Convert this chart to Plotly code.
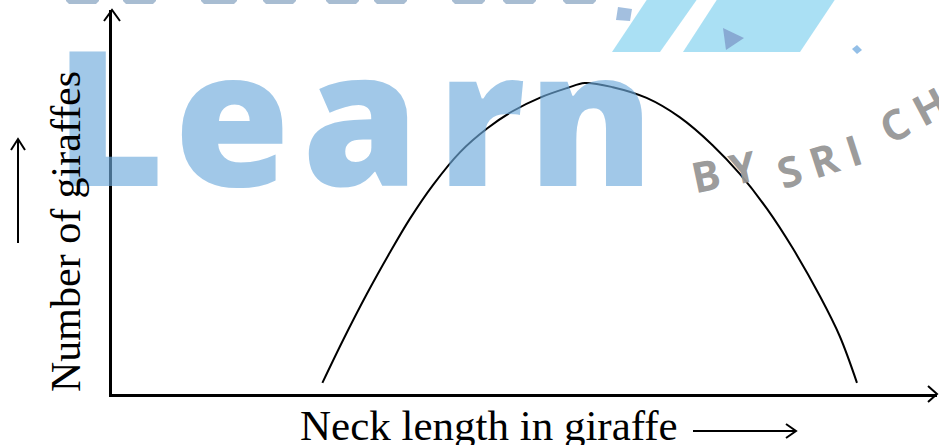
import plotly.graph_objects as go

# ---- data (arbitrary units) ----
neck_length = [25.5, 28.0, 30.9, 33.7, 36.1, 38.9, 42.2, 45.5, 48.6, 51.9, 55.2, 57.3,
               60.7, 64.8, 68.8, 72.8, 76.1, 79.4, 82.5, 85.8, 88.2, 90.3]
giraffe_count = [2.9, 14.0, 26.1, 36.9, 45.6, 54.4, 63.0, 69.2, 73.7, 77.2, 79.7, 81.0,
                 79.9, 77.1, 72.1, 64.8, 57.3, 48.2, 38.0, 25.5, 15.1, 2.9]
x_label = "Neck length in giraffe"
y_label = "Number of giraffes"

W, H = 939, 445
ML, MR, MT, MB = 112, 2, 10, 51
PW, PH = W - ML - MR, H - MT - MB


def px(xp):
    return (xp - ML) / PW


def py(yp):
    return (H - MB - yp) / PH


def path(points):
    s = ""
    for i, (a, b) in enumerate(points):
        s += ("M " if i == 0 else " L ") + f"{px(a):.5f},{py(b):.5f}"
    return s


fig = go.Figure()
fig.add_trace(go.Scatter(
    x=neck_length, y=giraffe_count, mode="lines",
    line=dict(color="black", width=2, shape="spline", smoothing=1.0),
    hoverinfo="skip",
))

shapes = []
line_style = dict(color="black", width=2)
# axis arrowheads
shapes.append(dict(type="path", xref="paper", yref="paper",
                   path=path([(928, 386), (937, 394), (928, 402)]), line=line_style))
shapes.append(dict(type="path", xref="paper", yref="paper",
                   path=path([(104, 21), (112, 10), (120, 21)]), line=line_style))
# label arrows
shapes.append(dict(type="path", xref="paper", yref="paper",
                   path=path([(18, 243), (18, 139)]), line=line_style))
shapes.append(dict(type="path", xref="paper", yref="paper",
                   path=path([(11, 150), (18, 139), (25, 150)]), line=line_style))
shapes.append(dict(type="path", xref="paper", yref="paper",
                   path=path([(693, 431), (796, 431)]), line=line_style))
shapes.append(dict(type="path", xref="paper", yref="paper",
                   path=path([(786, 424), (796, 431), (786, 438)]), line=line_style))

# watermark logo pieces
logo_fill = "rgba(155,218,242,0.85)"
shapes.append(dict(type="path", xref="paper", yref="paper", layer="below",
                   path=path([(612, 52), (660, 52), (698, -2), (648, -2)]) + " Z",
                   fillcolor=logo_fill, line=dict(width=0)))
shapes.append(dict(type="path", xref="paper", yref="paper", layer="below",
                   path=path([(683, 52), (800, 52), (836, -2), (718, -2)]) + " Z",
                   fillcolor=logo_fill, line=dict(width=0)))
shapes.append(dict(type="path", xref="paper", yref="paper", layer="below",
                   path=path([(723, 28), (744, 38), (726, 50)]) + " Z",
                   fillcolor="rgba(130,160,205,0.85)", line=dict(width=0)))
shapes.append(dict(type="path", xref="paper", yref="paper", layer="below",
                   path=path([(618, 7), (632, 9), (630, 21), (616, 20)]) + " Z",
                   fillcolor="rgba(140,175,215,0.8)", line=dict(width=0)))
shapes.append(dict(type="path", xref="paper", yref="paper", layer="below",
                   path=path([(852, 49), (857, 45), (862, 50), (857, 54)]) + " Z",
                   fillcolor="rgba(120,175,225,0.8)", line=dict(width=0)))
# bottoms of the cut-off watermark word at the top edge
for a, b in [(66, 99), (123, 156), (201, 237), (263, 296), (326, 359),
             (374, 407), (452, 485), (503, 536), (563, 596)]:
    shapes.append(dict(type="path", xref="paper", yref="paper", layer="below",
                       path=path([(a, -3), (b, -3), (b, 1), (b - 3, 4), (a + 3, 4), (a, 1)]) + " Z",
                       fillcolor="rgba(110,145,180,0.6)", line=dict(width=0)))

wm_font = dict(family="Open Sans", size=188, color="rgba(110,170,220,0.65)", weight=800)
annotations = []
for ch, cx in [("L", 109), ("e", 232), ("a", 360), ("r", 481), ("n", 591)]:
    annotations.append(dict(text=ch, xref="paper", yref="paper", x=px(cx), y=py(113),
                            xanchor="center", yanchor="middle", showarrow=False, font=wm_font))

gray_font = dict(family="Open Sans", size=42, color="rgba(150,150,150,0.95)", weight="bold")
annotations += [
    dict(text="B\u2005Y", xref="paper", yref="paper", x=px(724), y=py(170),
         xanchor="center", yanchor="middle", showarrow=False, textangle=-12, font=gray_font),
    dict(text="S\u2005R\u2005I", xref="paper", yref="paper", x=px(819), y=py(160),
         xanchor="center", yanchor="middle", showarrow=False, textangle=-18, font=gray_font),
    dict(text="C\u2005H\u2005A\u2005I\u2005T\u2005A\u2005N\u2005Y\u2005A", xref="paper", yref="paper",
         x=px(866), y=py(158), xanchor="left", yanchor="bottom", showarrow=False,
         textangle=-28, font=gray_font),
    dict(text=x_label, xref="paper", yref="paper", x=px(489), y=py(425),
         xanchor="center", yanchor="middle", showarrow=False,
         font=dict(family="Liberation Serif", size=43, color="black")),
    dict(text=y_label, xref="paper", yref="paper", x=px(66), y=py(232),
         xanchor="center", yanchor="middle", showarrow=False, textangle=-90,
         font=dict(family="Liberation Serif", size=42, color="black")),
]

axis_common = dict(range=[0, 100], showgrid=False, zeroline=False, showticklabels=False,
                   ticks="", showline=True, linecolor="black", linewidth=2.5, fixedrange=True)

fig.update_layout(
    width=W, height=H,
    margin=dict(l=ML, r=MR, t=MT, b=MB, pad=0),
    paper_bgcolor="white", plot_bgcolor="white",
    showlegend=False,
    xaxis=axis_common, yaxis=axis_common,
    shapes=shapes, annotations=annotations,
)

fig.write_html("out.html", config={"displayModeBar": False},
               post_script="document.body.style.margin='0';document.body.style.overflow='hidden';")
